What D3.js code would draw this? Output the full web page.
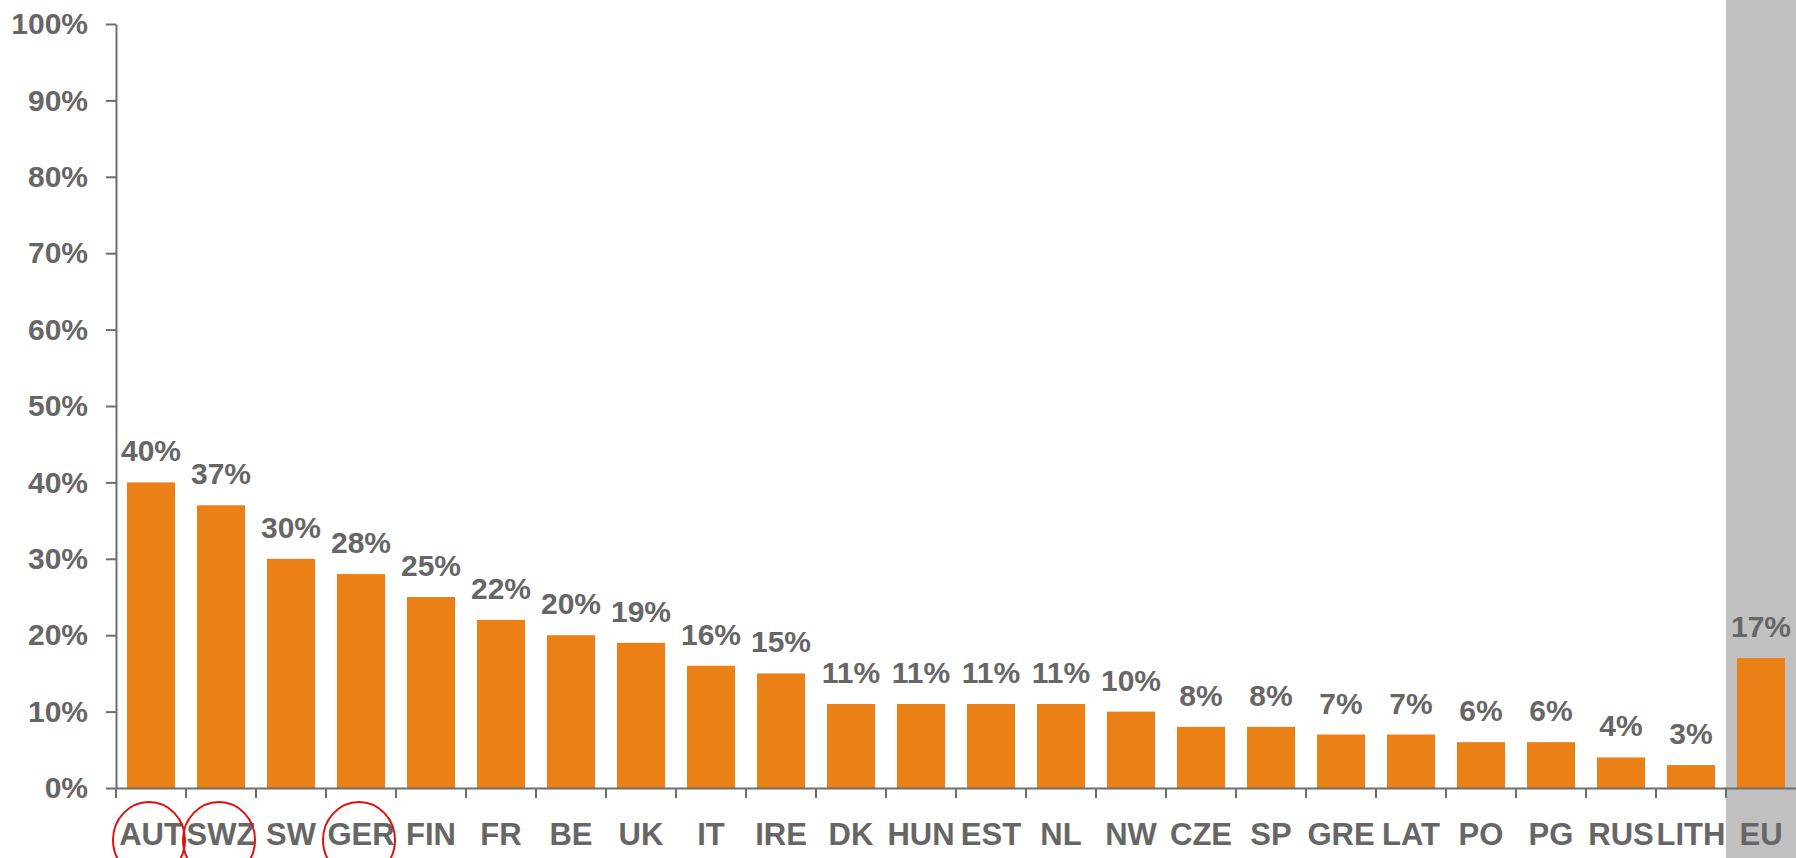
<!DOCTYPE html>
<html>
<head>
<meta charset="utf-8">
<script src="https://cdn.jsdelivr.net/npm/d3@7"></script>
<style>
  body { margin: 0; background: #fff; }
  text { font-family: "Liberation Sans", Arial, sans-serif; font-weight: bold; }
</style>
</head>
<body>
<div id="chart"></div>
<script>
// data
const countries = ["AUT", "SWZ", "SW", "GER", "FIN", "FR", "BE", "UK", "IT", "IRE", "DK", "HUN",
  "EST", "NL", "NW", "CZE", "SP", "GRE", "LAT", "PO", "PG", "RUS", "LITH", "EU"];
const shares = [40, 37, 30, 28, 25, 22, 20, 19, 16, 15, 11, 11, 11, 11, 10, 8, 8, 7, 7, 6, 6, 4, 3, 17];
const yTicks = [0, 10, 20, 30, 40, 50, 60, 70, 80, 90, 100];
const circled = ["AUT", "SWZ", "GER"];
const highlight = "EU";

const W = 1796, H = 858;
const margin = {top: 24, right: 0, bottom: 70, left: 116};
const textColor = "#666666";

const svg = d3.select("#chart")
  .append("svg")
    .attr("width", W)
    .attr("height", H);

const x = d3.scaleBand()
  .domain(countries)
  .range([margin.left, W - margin.right])
  .paddingInner(0.314)
  .paddingOuter(0.157);

const y = d3.scaleLinear()
  .domain([0, 100])
  .range([H - margin.bottom, margin.top]);

const gap = (x.step() - x.bandwidth()) / 2;

// gray band behind EU
svg.append("rect")
  .attr("x", x(highlight) - gap)
  .attr("y", 0)
  .attr("width", x.step())
  .attr("height", H)
  .attr("fill", "#c0c0c0");

// bars
svg.selectAll("rect.bar")
  .data(countries)
  .join("rect")
    .attr("class", "bar")
    .attr("x", d => x(d))
    .attr("width", x.bandwidth())
    .attr("y", (d, i) => y(shares[i]))
    .attr("height", (d, i) => y(0) - y(shares[i]))
    .attr("fill", "#ea8016");

// value labels
svg.selectAll("text.val")
  .data(countries)
  .join("text")
    .attr("class", "val")
    .attr("x", d => x(d) + x.bandwidth() / 2)
    .attr("y", (d, i) => y(shares[i]) - 21)
    .attr("text-anchor", "middle")
    .style("font-size", "30px")
    .style("fill", textColor)
    .text((d, i) => shares[i] + "%");

// y axis
const yAxis = svg.append("g")
  .attr("transform", `translate(${margin.left},0)`)
  .call(d3.axisLeft(y).tickValues(yTicks).tickFormat(d => d + "%").tickSize(10).tickPadding(18).tickSizeOuter(0));
yAxis.selectAll("text").style("font-size", "30px").style("fill", textColor);
yAxis.selectAll("line").attr("stroke", "#6e6e6e").attr("stroke-width", 2);
yAxis.select(".domain").attr("stroke", "#6e6e6e").attr("stroke-width", 2);

// x axis line + labels
const xAxis = svg.append("g")
  .attr("transform", `translate(0,${y(0)})`)
  .call(d3.axisBottom(x).tickSize(0).tickPadding(35).tickSizeOuter(0));
xAxis.selectAll("text").style("font-size", "31px").style("fill", textColor);
xAxis.select(".domain").attr("stroke", "#6e6e6e").attr("stroke-width", 2);

// tick marks at category boundaries
svg.append("g")
  .selectAll("line")
  .data(countries)
  .join("line")
    .attr("x1", d => x(d) - gap)
    .attr("x2", d => x(d) - gap)
    .attr("y1", y(0))
    .attr("y2", y(0) + 10)
    .attr("stroke", "#6e6e6e")
    .attr("stroke-width", 2);

// red circles around a few labels
svg.selectAll("ellipse")
  .data(circled)
  .join("ellipse")
    .attr("cx", d => x(d) + x.bandwidth() / 2 - 2)
    .attr("cy", 840)
    .attr("rx", 36)
    .attr("ry", 38)
    .attr("fill", "none")
    .attr("stroke", "#e01010")
    .attr("stroke-width", 2);
</script>
</body>
</html>
